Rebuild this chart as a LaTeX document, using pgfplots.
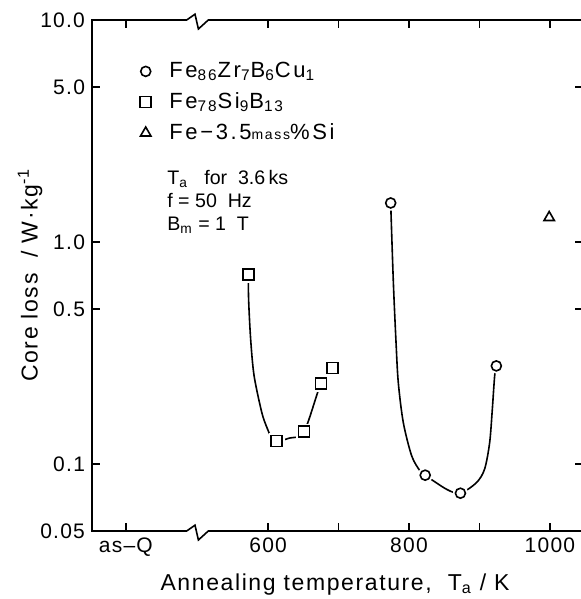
\documentclass[border=0pt]{standalone}
\usepackage{fontspec}
\setmainfont{Liberation Sans}
\usepackage{pgfplots}
\pgfplotsset{compat=1.18}
\pgfplotsset{dotleg/.style={legend image code/.code={%
  \draw[##1] plot coordinates {(0.1cm,0cm)};
  \path[draw=none, fill=none] (0.1cm,0cm) -- ++(9.8pt,0pt);}}}

\begin{document}
\begin{tikzpicture}
\begin{axis}[
  width=245.5pt, height=255.5pt, scale only axis,
  xmin=350, xmax=1047,
  ymode=log, ymin=0.05, ymax=10,
  xtick={398,600,700,800,900,1000},
  xticklabels={as–Q,600,,800,,1000},
  ytick={0.05,0.1,0.5,1,5,10},
  yticklabels={0.05,0.1,0.5,1.0,5.0,10.0},
  yminorticks=false,
  tick align=inside, tick pos=both, major tick length=4pt,
  axis line style={line width=0.8pt},
  every tick/.style={line width=0.8pt, black},
  /pgf/number format/assume math mode=true,
  ticklabel style={font=\fontsize{10.5}{12}\selectfont\addfontfeatures{LetterSpace=6}},
  xlabel={Annealing temperature,\ \ T\textsubscript{a} / K},
  ylabel={Core loss\ \ / W·kg\textsuperscript{-1}},
  label style={font=\fontsize{11.5}{13}\selectfont\addfontfeatures{LetterSpace=7}},
  xlabel style={at={(axis description cs:0.495,-0.1155)}, anchor=base},
  ylabel style={at={(axis description cs:-0.126,0.501)}, anchor=center},
  legend style={at={(axis description cs:0.0974,0.926)}, anchor=north west,
    draw=none, fill=none,
    font=\fontsize{11}{12}\selectfont\addfontfeatures{LetterSpace=12},
    row sep=2pt, inner sep=0pt},
  legend cell align=left,
]
% fitted curves
\addplot[black, line width=0.8pt, smooth, tension=0.5, forget plot] coordinates {
  (572,0.715) (572.3,0.553) (575.2,0.366) (580.1,0.25) (591,0.171)
  (598,0.147) (603.8,0.134) (612,0.127) (630,0.131) (651,0.140)
  (675,0.231) (691,0.271)};
\addplot[black, line width=0.8pt, smooth, tension=0.5, forget plot] coordinates {
  (774,1.50) (777.8,0.658) (781.6,0.353) (784.8,0.233) (791.9,0.154)
  (803.8,0.109) (815.6,0.0933) (823,0.0892) (853.6,0.077) (873,0.074)
  (896,0.0827) (907.4,0.0952) (914.5,0.125) (918.3,0.177) (921.6,0.25)
  (924,0.277)};
% white halos around the open markers
\addplot[only marks, mark=*, mark size=3.6pt, white, forget plot] coordinates {
  (774,1.50) (823,0.0892) (873,0.074) (924,0.277)};
\addplot[only marks, mark=square*, mark size=3.8pt, white, forget plot] coordinates {
  (572,0.715) (612,0.127) (651,0.140) (675,0.231) (691,0.271)};
% data
\addplot[only marks, mark=o, mark size=2.5pt, line width=0.8pt, black, dotleg] coordinates {
  (774,1.50) (823,0.0892) (873,0.074) (924,0.277)};
\addlegendentry{Fe\textsubscript{86}Zr\textsubscript{7}B\textsubscript{6}Cu\textsubscript{1}}
\addplot[only marks, mark=square, mark size=2.75pt, line width=0.8pt, black, dotleg] coordinates {
  (572,0.715) (612,0.127) (651,0.140) (675,0.231) (691,0.271)};
\addlegendentry{Fe\textsubscript{78}Si\textsubscript{9}B\textsubscript{13}}
\addplot[only marks, mark=triangle, mark size=3pt, line width=0.8pt, black, dotleg] coordinates {
  (999,1.29)};
\addlegendentry{Fe−3.5{\scriptsize mass}\%Si}
\node[anchor=north west, inner sep=0pt, align=left,
  font=\fontsize{9.8}{11.5}\selectfont] at (axis description cs:0.1527,0.7065)
  {T\textsubscript{a}\ \ \ for\ \ 3.6\,ks\\ f = 50\ \ Hz\\ B\textsubscript{m} = 1\ \ T};
\coordinate (O) at (axis description cs:0,0);
\coordinate (T) at (axis description cs:0,1);
\end{axis}
% axis break marks
\foreach \c in {O,T} {
  \draw[white, line width=2pt] ([xshift=47.6pt]\c) -- ([xshift=57.9pt]\c);
  \draw[black, line width=0.8pt] ([xshift=47.35pt]\c) -- ([xshift=51.5pt,yshift=2.9pt]\c)
    -- ([xshift=53.2pt,yshift=-4.5pt]\c) -- ([xshift=58.15pt]\c);
}
\pgfresetboundingbox
\path[use as bounding box] ([xshift=-46pt,yshift=-34pt]O) rectangle ([xshift=244.5pt,yshift=10pt]T);
\end{tikzpicture}
\end{document}
